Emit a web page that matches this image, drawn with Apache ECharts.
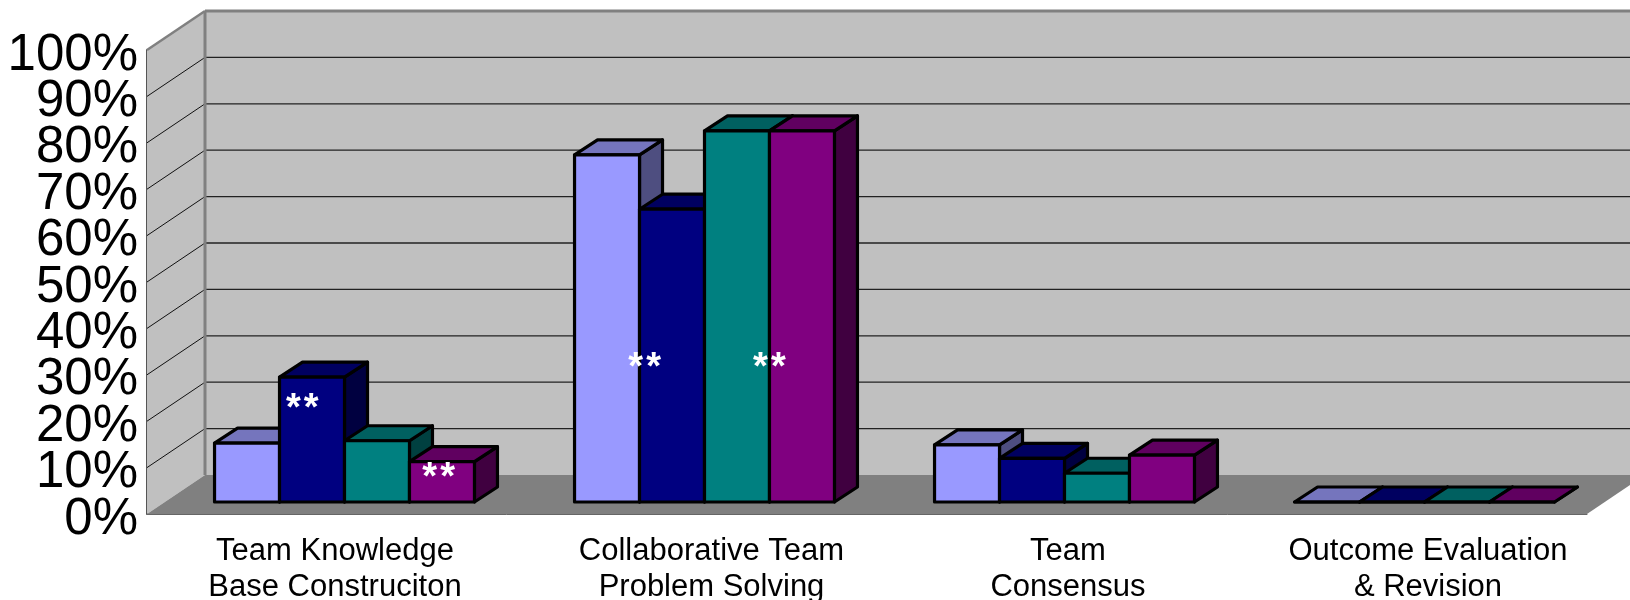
<!DOCTYPE html>
<html><head><meta charset="utf-8">
<style>html,body{margin:0;padding:0;background:#fff}#c{width:1630px;height:600px}</style>
<script src="https://cdn.jsdelivr.net/npm/echarts@6/dist/echarts.min.js"></script>
</head><body><div id="c"></div>
<script>
const categories = ['Team Knowledge\nBase Construciton','Collaborative Team\nProblem Solving','Team\nConsensus','Outcome Evaluation\n& Revision'];
const yTicks = [0,10,20,30,40,50,60,70,80,90,100];
const oddTicks = [10,30,50,70,90];
const seriesA = [12.7,74.8,12.3,0];
const seriesB = [26.9,63.1,9.4,0];
const seriesC = [13.2,80,6.2,0];
const seriesD = [8.7,80,10.1,0];
const seriesNames = ['A','B','C','D'];
const fills = ['#9999ff','#000080','#008080','#800080'];
const tops = ['#7575bd','#000060','#006060','#600060'];
const sides = ['#4e4e80','#000040','#004040','#400040'];
// [category, slot among the four bars, value height]
const stars = [[0,1.35,20],[0,3.45,5],[1,1.08,28.8],[1,3.0,28.8]];

const D = {dx:58, dy:39, bx:17.5, by:12, bdx:23, bdy:15, bw:0.1805};
function poly(points, fill, stroke, lw){
  return {type:'polygon', shape:{points}, style:{fill, stroke:stroke||null, lineWidth:lw||0, lineJoin:'round'}};
}
function line(p,q,stroke,lw){
  return {type:'line', shape:{x1:p[0],y1:p[1],x2:q[0],y2:q[1]}, style:{stroke, lineWidth:lw}};
}
function renderWalls(params, api){
  const cs = params.coordSys, L = cs.x, R = cs.x + cs.width, B = api.coord([0,0])[1], T = api.coord([0,100])[1];
  const c = [];
  c.push(poly([[L+D.dx,T-D.dy+1],[R+D.dx,T-D.dy+1],[R+D.dx,B-D.dy],[L+D.dx,B-D.dy]],'#c0c0c0'));
  c.push(poly([[L,T],[L+D.dx,T-D.dy+1],[L+D.dx,B-D.dy],[L,B]],'#c0c0c0'));
  c.push(poly([[L,B],[R,B],[R+D.dx,B-D.dy],[L+D.dx,B-D.dy]],'#808080'));
  yTicks.forEach(v=>{
    if(v===0||v===100) return;
    const y = api.coord([0,v])[1];
    c.push(line([L,y],[L+D.dx,y-D.dy],'#111',1));
    c.push(line([L+D.dx,y-D.dy],[R+D.dx,y-D.dy],'#222',1.3));
  });
  c.push(line([L,T],[L+D.dx,T-D.dy],'#808080',2.5));
  c.push(line([L+D.dx,T-D.dy],[R+D.dx,T-D.dy],'#808080',3));
  c.push(line([L+D.dx,T-D.dy],[L+D.dx,B-D.dy],'#808080',3));
  return {type:'group', children:c};
}
function renderBar(params, api){
  const i = params.seriesIndex - 1;
  const p = api.coord([api.value(0), api.value(1)]);
  const band = api.size([1,0])[0], w = band*D.bw;
  const x0 = p[0] + D.bx + (i-2)*w, x1 = x0 + w;
  const y1 = api.coord([0,0])[1] - D.by, y0 = p[1] - D.by;
  const s = {s:'#000', w:3.2};
  const c = [];
  c.push(poly([[x1,y0],[x1+D.bdx,y0-D.bdy],[x1+D.bdx,y1-D.bdy],[x1,y1]],sides[i],s.s,s.w));
  c.push(poly([[x0,y0],[x1,y0],[x1+D.bdx,y0-D.bdy],[x0+D.bdx,y0-D.bdy]],tops[i],s.s,s.w));
  c.push(poly([[x0,y0],[x1,y0],[x1,y1],[x0,y1]],fills[i],s.s,s.w));
  return {type:'group', children:c};
}
function renderStar(params, api){
  const p = api.coord([api.value(0), api.value(2)]);
  const band = api.size([1,0])[0], w = band*D.bw;
  const x = p[0] + D.bx + (api.value(1)-2)*w;
  return {type:'text', x, y:p[1]-D.by, style:{text:'*\u200A*', fill:'#fff', font:'bold 38px "Liberation Sans"', align:'center', verticalAlign:'middle'}};
}
const series = [{type:'custom', name:'walls', data:[[0,0]], renderItem:renderWalls, silent:true, z:1}];
[seriesA,seriesB,seriesC,seriesD].forEach((vals,k)=>{
  series.push({type:'custom', name:seriesNames[k], z:2+k, renderItem:renderBar, encode:{x:0,y:1},
    data: vals.map((v,ci)=>[ci,v])});
});
series.push({type:'custom', name:'stars', z:10, renderItem:renderStar, data:stars, encode:{x:0,y:2}, silent:true});

const labelPad = [16,49,42,42];
const yLabel = {formatter:'{value}%', margin:9, fontFamily:'Liberation Sans', fontSize:51, lineHeight:11, verticalAlign:'top', color:'#000'};
const chart = echarts.init(document.getElementById('c'), null, {renderer:'canvas'});
chart.setOption({
  animation:false,
  backgroundColor:'#fff',
  grid:{left:147, right:43, top:50, bottom:86, containLabel:false, outerBoundsMode:'none'},
  xAxis:{type:'category', data:categories.map((c,i)=>({value:c, textStyle:{padding:[0,0,0,labelPad[i]]}})),
    axisTick:{show:false}, splitLine:{show:false},
    axisLine:{show:true, onZero:false, lineStyle:{color:'#666', width:1}},
    axisLabel:{interval:0, margin:19, fontFamily:'Liberation Sans', fontSize:31, color:'#000', lineHeight:36, align:'center', verticalAlign:'top'}},
  yAxis:[
    {type:'value', position:'left', min:0, max:100, interval:20,
      splitLine:{show:false}, axisTick:{show:false},
      axisLine:{show:true, lineStyle:{color:'#555', width:2}},
      axisLabel:Object.assign({showMinLabel:true, showMaxLabel:true}, yLabel)},
    {type:'value', position:'left', min:0, max:100, interval:10,
      splitLine:{show:false}, axisTick:{show:false}, axisLine:{show:false},
      axisLabel:Object.assign({customValues:oddTicks}, yLabel)}
  ],
  series
});
</script></body></html>
